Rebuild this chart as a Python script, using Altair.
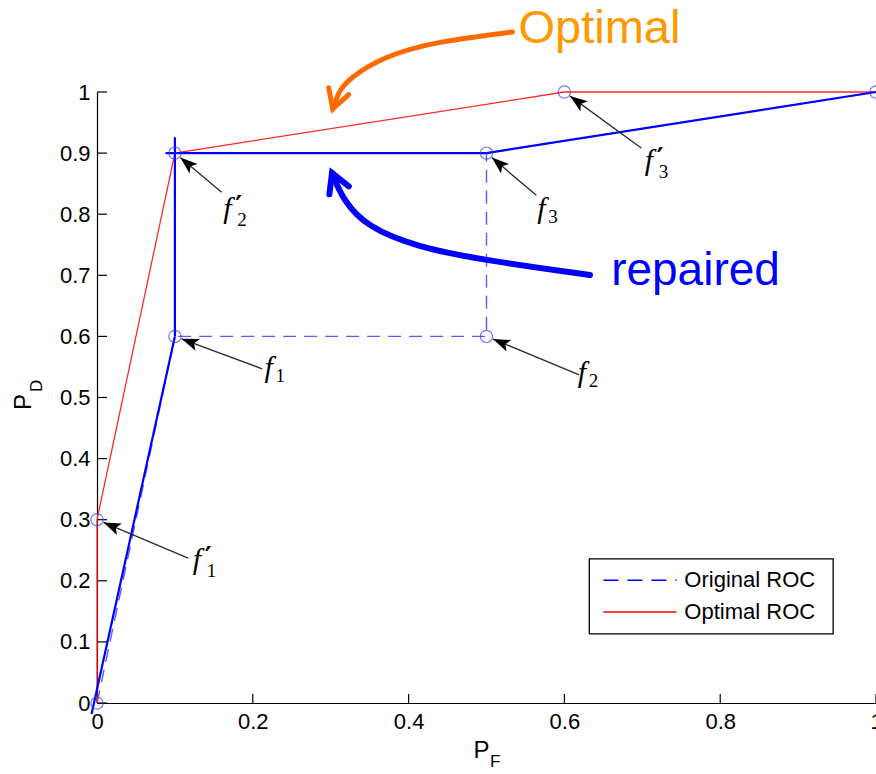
import math
import altair as alt
import pandas as pd

# Plot-area size in pixels (used for arrow angles and head offsets)
W, H = 779, 611

# ROC curves
orig_pf = [0.0, 0.1, 0.5, 0.5, 1.0]
orig_pd = [0.0, 0.6, 0.6, 0.9, 1.0]

opt_pf = [0.0, 0.0, 0.1, 0.6, 1.0]
opt_pd = [0.0, 0.3, 0.9, 1.0, 1.0]

# repaired ROC, drawn as separate solid segments
rep_x = [-0.007, 0.1, 0.088, 0.5]
rep_y = [-0.018, 0.6, 0.9, 0.9]
rep_x2 = [0.1, 0.1, 0.5, 1.0]
rep_y2 = [0.6, 0.926, 0.9, 1.0]

# operating points marked with circles
pt_pf = [0.0, 0.0, 0.1, 0.1, 0.5, 0.5, 0.6, 1.0]
pt_pd = [0.0, 0.3, 0.6, 0.9, 0.6, 0.9, 1.0, 1.0]

# point annotations: target, arrow tail, label anchor
ann_sub = ["1", "2", "3", "1", "2", "3"]
ann_prime = [True, True, False, False, False, True]
ann_tx = [0.0, 0.1, 0.5, 0.1, 0.5, 0.6]
ann_ty = [0.3, 0.9, 0.9, 0.6, 0.6, 1.0]
ann_sx = [0.117, 0.160, 0.564, 0.212, 0.619, 0.699]
ann_sy = [0.237, 0.836, 0.831, 0.547, 0.537, 0.908]
ann_lx = [0.123, 0.162, 0.565, 0.215, 0.617, 0.703]
ann_ly = [0.219, 0.794, 0.794, 0.534, 0.525, 0.872]

# hand-drawn callout curves (smoothed with a B-spline)
opt_curve_x = [0.5333, 0.4308, 0.3667, 0.3244, 0.3103, 0.3026]
opt_curve_y = [1.0982, 1.0818, 1.0573, 1.0229, 1.0016, 0.9722]
rep_curve_x = [0.6329, 0.4955, 0.4108, 0.3466, 0.3158, 0.3017]
rep_curve_y = [0.7005, 0.7250, 0.7463, 0.7791, 0.8232, 0.8674]

ticks = [0.0, 0.2, 0.4, 0.6, 0.8, 1.0]
yticks = [0.0, 0.1, 0.2, 0.3, 0.4, 0.5, 0.6, 0.7, 0.8, 0.9, 1.0]

legend_labels = ["Original ROC", "Optimal ROC"]

FONT = "Liberation Sans"

sx = alt.Scale(domain=[0, 1], nice=False, zero=False)
sy = alt.Scale(domain=[0, 1], nice=False, zero=False)

XAXIS = alt.Axis(values=ticks, format="~g", ticks=False, grid=False,
                 labelFontSize=22, labelPadding=8, labelFont=FONT,
                 labelColor="black", domainColor="black", domainWidth=1.2,
                 labelFlush=False, labelOverlap=False, title="")
YAXIS = alt.Axis(values=yticks, format="~g", ticks=False, grid=False,
                 labelFontSize=22, labelPadding=7, labelFont=FONT,
                 labelColor="black", domainColor="black", domainWidth=1.2,
                 labelFlush=False, labelOverlap=False, title="")


def X(field):
    return alt.X(field, type="quantitative", scale=sx, axis=XAXIS, title="")


def Y(field):
    return alt.Y(field, type="quantitative", scale=sy, axis=YAXIS, title="")


def angle_of(x0, y0, x1, y1):
    """Screen angle (clockwise from up) of the direction (x0,y0)->(x1,y1)."""
    dx = (x1 - x0) * W
    dy = -(y1 - y0) * H
    return math.degrees(math.atan2(dx, -dy)) % 360


# --- inward tick marks -----------------------------------------------------
xtick_marks = alt.Chart(pd.DataFrame({"x": ticks})).mark_rule(color="black", strokeWidth=1.2).encode(
    x=X("x"), y=alt.value(H), y2=alt.value(H - 9)
)
ytick_marks = alt.Chart(pd.DataFrame({"y": yticks})).mark_rule(color="black", strokeWidth=1.2).encode(
    y=Y("y"), x=alt.value(0), x2=alt.value(10)
)

# --- curves ----------------------------------------------------------------
orig_df = pd.DataFrame({"x": orig_pf, "y": orig_pd, "i": range(len(orig_pf))})
orig_line = alt.Chart(orig_df).mark_line(
    color="#5a5aff", strokeWidth=1.4, strokeDash=[13, 8]
).encode(x=X("x"), y=Y("y"), order="i:O")

opt_df = pd.DataFrame({"x": opt_pf, "y": opt_pd, "i": range(len(opt_pf))})
opt_line = alt.Chart(opt_df).mark_line(color="#ff2a2a", strokeWidth=1.3).encode(
    x=X("x"), y=Y("y"), order="i:O"
)

rep_df = pd.DataFrame({"x": rep_x, "y": rep_y, "x2": rep_x2, "y2": rep_y2})
rep_lines = alt.Chart(rep_df).mark_rule(color="#0000ff", strokeWidth=2.2).encode(
    x=X("x"), y=Y("y"), x2="x2:Q", y2="y2:Q"
)

pts_df = pd.DataFrame({"x": pt_pf, "y": pt_pd})
pts = alt.Chart(pts_df).mark_point(
    shape="circle", filled=False, color="#3a3aff", size=150, strokeWidth=1.2
).encode(x=X("x"), y=Y("y"))

# --- annotation arrows -----------------------------------------------------
rows = []
for i in range(len(ann_sub)):
    tx, ty, sx_, sy_ = ann_tx[i], ann_ty[i], ann_sx[i], ann_sy[i]
    # tip sits on the circle's edge, toward the tail
    dxp = (sx_ - tx) * W
    dyp = (sy_ - ty) * H
    n = math.hypot(dxp, dyp)
    hx = tx + 7 * dxp / n / W
    hy = ty + 7 * dyp / n / H
    rows.append({
        "tx": sx_, "ty": sy_, "hx": hx, "hy": hy,
        "ang": angle_of(sx_, sy_, hx, hy),
        "lx": ann_lx[i], "ly": ann_ly[i],
        "sub": ann_sub[i], "prime": ann_prime[i],
    })
ann_df = pd.DataFrame(rows)

arrow_shafts = alt.Chart(ann_df).mark_rule(color="#2a2a2a", strokeWidth=1.3).encode(
    x=X("tx"), y=Y("ty"), x2="hx:Q", y2="hy:Q"
)
HEAD = "M0,0L0.72,2L0,1.55L-0.72,2Z"
arrow_heads = alt.Chart(ann_df).mark_point(
    shape=HEAD, filled=True, color="black", size=300, opacity=1
).encode(x=X("hx"), y=Y("hy"), angle=alt.Angle("ang:Q", scale=None))

f_text = alt.Chart(ann_df).mark_text(
    text="f", font="Liberation Serif", fontStyle="italic", fontSize=30,
    align="left", baseline="alphabetic", color="black"
).encode(x=X("lx"), y=Y("ly"))

primed_df = ann_df[ann_df["prime"]]
plain_df = ann_df[~ann_df["prime"]]

prime_text = alt.Chart(primed_df).mark_text(
    text="\u2032", font="DejaVu Sans", fontSize=26, fontWeight="bold", align="left",
    baseline="alphabetic", dx=12, dy=-3, color="black"
).encode(x=X("lx"), y=Y("ly"))

sub_primed = alt.Chart(primed_df).mark_text(
    font="Liberation Serif", fontSize=19, align="left", baseline="alphabetic",
    dx=14, dy=8, color="black"
).encode(x=X("lx"), y=Y("ly"), text="sub:N")

sub_plain = alt.Chart(plain_df).mark_text(
    font="Liberation Serif", fontSize=19, align="left", baseline="alphabetic",
    dx=11, dy=5, color="black"
).encode(x=X("lx"), y=Y("ly"), text="sub:N")

# --- callout curves with open arrowheads ------------------------------------
CHEVRON = "M-0.7,1.25L0,0L0.7,1.25"


def callout(cx, cy, color, width):
    df = pd.DataFrame({"x": cx, "y": cy, "i": range(len(cx))})
    line = alt.Chart(df).mark_line(
        color=color, strokeWidth=width, interpolate="basis", strokeCap="round"
    ).encode(x=X("x"), y=Y("y"), order="i:O")
    head_df = pd.DataFrame({
        "x": [cx[-1]], "y": [cy[-1]],
        "ang": [angle_of(cx[-2], cy[-2], cx[-1], cy[-1])],
    })
    head = alt.Chart(head_df).mark_point(
        shape=CHEVRON, filled=False, color=color, size=900,
        strokeWidth=width, opacity=1, strokeCap="round", strokeJoin="miter"
    ).encode(x=X("x"), y=Y("y"), angle=alt.Angle("ang:Q", scale=None))
    return line, head


opt_c, opt_h = callout(opt_curve_x, opt_curve_y, "#ff6a00", 5)
rep_c, rep_h = callout(rep_curve_x, rep_curve_y, "#0000ff", 6)

opt_label = alt.Chart(pd.DataFrame({"x": [0.541], "y": [1.080]})).mark_text(
    text="Optimal", font=FONT, fontSize=47, color="#ff9900",
    align="left", baseline="alphabetic"
).encode(x=X("x"), y=Y("y"))

rep_label = alt.Chart(pd.DataFrame({"x": [0.660], "y": [0.684]})).mark_text(
    text="repaired", font=FONT, fontSize=46, color="#0000ff",
    align="left", baseline="alphabetic"
).encode(x=X("x"), y=Y("y"))

# --- legend box ----------------------------------------------------------------
legend_box = alt.Chart(pd.DataFrame({"x": [0.632], "x2": [0.945], "y": [0.113], "y2": [0.236]})).mark_rect(
    fill="white", stroke="black", strokeWidth=1.3
).encode(x=X("x"), x2="x2:Q", y=Y("y"), y2="y2:Q")

leg_orig = alt.Chart(pd.DataFrame({"x": [0.650], "x2": [0.744], "y": [0.201]})).mark_rule(
    color="#0000ff", strokeWidth=1.5, strokeDash=[15, 9]
).encode(x=X("x"), x2="x2:Q", y=Y("y"))

leg_opt = alt.Chart(pd.DataFrame({"x": [0.650], "x2": [0.744], "y": [0.149]})).mark_rule(
    color="#ff0000", strokeWidth=1.5
).encode(x=X("x"), x2="x2:Q", y=Y("y"))

leg_text = alt.Chart(pd.DataFrame({"x": [0.754, 0.754], "y": [0.201, 0.149], "t": legend_labels})).mark_text(
    font=FONT, fontSize=22, align="left", baseline="middle", color="black"
).encode(x=X("x"), y=Y("y"), text="t:N")

# --- axis titles P_F and P_D -------------------------------------------------
pf_main = alt.Chart(pd.DataFrame({"x": [0.4936], "y": [-0.0786]})).mark_text(
    text="P", font=FONT, fontSize=24, align="center", baseline="middle", color="black"
).encode(x=X("x"), y=Y("y"))
pf_sub = alt.Chart(pd.DataFrame({"x": [0.511], "y": [-0.0966]})).mark_text(
    text="F", font=FONT, fontSize=17, align="center", baseline="middle", color="black"
).encode(x=X("x"), y=Y("y"))
pd_main = alt.Chart(pd.DataFrame({"x": [-0.0936], "y": [0.4926]})).mark_text(
    text="P", font=FONT, fontSize=24, align="center", baseline="middle",
    angle=270, color="black"
).encode(x=X("x"), y=Y("y"))
pd_sub = alt.Chart(pd.DataFrame({"x": [-0.0769], "y": [0.519]})).mark_text(
    text="D", font=FONT, fontSize=17, align="center", baseline="middle",
    angle=270, color="black"
).encode(x=X("x"), y=Y("y"))

chart = alt.layer(
    xtick_marks, ytick_marks,
    orig_line, opt_line, rep_lines, pts,
    arrow_shafts, arrow_heads, f_text, prime_text, sub_primed, sub_plain,
    opt_c, opt_h, rep_c, rep_h, opt_label, rep_label,
    legend_box, leg_orig, leg_opt, leg_text,
    pf_main, pf_sub, pd_main, pd_sub,
).properties(
    width=W, height=H,
    padding={"left": 97, "top": 92, "right": 0, "bottom": 71},
    autosize=alt.AutoSizeParams(type="none"),
    background="white",
).configure_view(strokeWidth=0)

chart.save("out.html", embed_options={"renderer": "svg", "actions": False})
